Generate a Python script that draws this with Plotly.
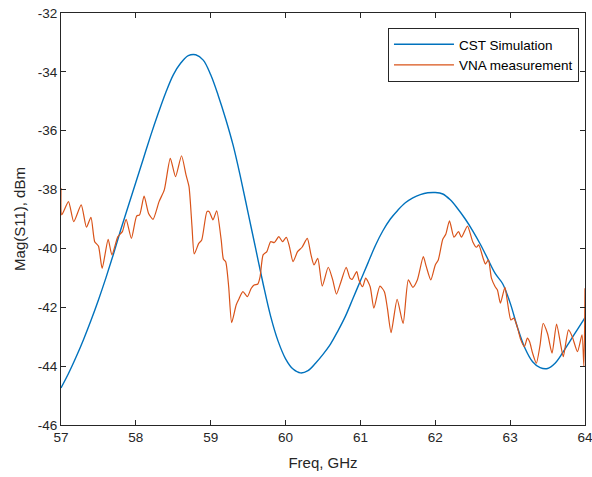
import plotly.graph_objects as go

# CST simulation (blue)
freq_cst = [57.0, 57.1, 57.2, 57.3, 57.4, 57.5, 57.6, 57.7, 57.8, 57.9,
            58.0, 58.1, 58.2, 58.3, 58.4, 58.5, 58.6, 58.7, 58.8, 58.9,
            59.0, 59.1, 59.2, 59.3, 59.4, 59.5, 59.6, 59.7, 59.8, 59.9,
            60.0, 60.1, 60.2, 60.3, 60.4, 60.5, 60.6, 60.7, 60.8, 60.9,
            61.0, 61.1, 61.2, 61.3, 61.4, 61.5, 61.6, 61.7, 61.8, 61.9,
            62.0, 62.1, 62.2, 62.3, 62.4, 62.5, 62.6, 62.7, 62.8, 62.9,
            63.0, 63.1, 63.2, 63.3, 63.4, 63.5, 63.6, 63.7, 63.8, 63.9, 64.0]
s11_cst = [-44.74, -44.25, -43.7, -43.1, -42.45, -41.75, -41.0, -40.2, -39.35, -38.55,
           -37.75, -36.95, -36.15, -35.4, -34.7, -34.1, -33.7, -33.45, -33.42, -33.6,
           -34.1, -34.8, -35.6, -36.5, -37.6, -38.8, -40.0, -41.2, -42.3, -43.15,
           -43.75, -44.1, -44.23, -44.15, -43.9, -43.6, -43.25, -42.8, -42.3, -41.7,
           -41.1, -40.5, -39.9, -39.4, -39.0, -38.7, -38.45, -38.28, -38.17, -38.11,
           -38.1, -38.15, -38.35, -38.65, -39.0, -39.4, -39.85, -40.35, -40.85, -41.2,
           -41.85, -42.7, -43.4, -43.85, -44.05, -44.08, -43.9, -43.55, -43.15, -42.75, -42.35]

# VNA measurement (orange)
freq_vna = [57.00, 57.01, 57.10, 57.17, 57.27, 57.34, 57.40, 57.45, 57.50, 57.55,
            57.63, 57.68, 57.76, 57.82, 57.87, 57.94, 58.01, 58.05, 58.11, 58.17,
            58.23, 58.31, 58.38, 58.46, 58.53, 58.61, 58.67, 58.71, 58.75, 58.78,
            58.84, 58.88, 58.95, 58.98, 59.03, 59.08, 59.14, 59.17, 59.20, 59.24,
            59.28, 59.34, 59.38, 59.43, 59.49, 59.54, 59.58, 59.63, 59.66, 59.70,
            59.75, 59.80, 59.85, 59.91, 59.96, 60.01, 60.05, 60.10, 60.16, 60.22,
            60.29, 60.34, 60.38, 60.43, 60.49, 60.57, 60.63, 60.68, 60.74, 60.81,
            60.86, 60.89, 60.95, 60.98, 61.03, 61.07, 61.13, 61.18, 61.26, 61.32,
            61.36, 61.41, 61.49, 61.57, 61.64, 61.70, 61.76, 61.84, 61.88, 61.94,
            62.00, 62.04, 62.10, 62.14, 62.19, 62.25, 62.31, 62.35, 62.43, 62.50,
            62.55, 62.58, 62.64, 62.67, 62.71, 62.75, 62.80, 62.83, 62.87, 62.93,
            62.96, 63.01, 63.05, 63.10, 63.14, 63.19, 63.23, 63.26, 63.30, 63.35,
            63.40, 63.44, 63.50, 63.56, 63.62, 63.68, 63.71, 63.78, 63.83, 63.90,
            63.96, 63.985, 64.00]
s11_vna = [-37.95, -38.86, -38.41, -39.09, -38.52, -39.28, -38.94, -39.77, -39.92, -40.68,
           -39.69, -40.22, -39.60, -39.43, -39.01, -39.66, -38.90, -38.86, -38.22, -38.81,
           -39.01, -38.41, -38.01, -36.94, -37.56, -36.85, -37.50, -37.90, -39.26, -40.19,
           -39.83, -39.71, -38.75, -38.75, -39.03, -38.72, -39.71, -40.37, -40.45, -41.30,
           -42.52, -41.92, -41.70, -41.47, -41.64, -41.36, -41.24, -41.21, -40.96, -40.22,
           -40.11, -39.77, -39.80, -39.60, -39.77, -39.62, -39.92, -40.45, -40.11, -39.96,
           -39.66, -40.22, -40.56, -40.34, -41.28, -40.64, -41.07, -41.55, -41.13, -40.64,
           -41.01, -41.05, -40.79, -41.07, -41.30, -41.01, -41.30, -42.03, -41.28, -41.47,
           -42.03, -42.86, -41.73, -42.55, -41.07, -41.32, -41.07, -40.28, -40.62, -41.07,
           -40.56, -40.39, -39.69, -39.52, -39.06, -39.62, -39.43, -39.62, -39.24, -39.77,
           -39.96, -39.88, -40.34, -40.53, -40.39, -41.01, -41.30, -41.41, -41.86, -41.32,
           -41.75, -42.43, -42.37, -42.71, -43.09, -43.34, -43.05, -43.17, -43.56, -43.90,
           -43.28, -42.55, -42.90, -43.56, -42.57, -43.34, -43.68, -42.77, -43.00, -43.51,
           -42.94, -44.00, -41.35]

x_ticks = [57, 58, 59, 60, 61, 62, 63, 64]
x_ticktext = ["57", "58", "59", "60", "61", "62", "63", "64"]
y_ticks = [-46, -44, -42, -40, -38, -36, -34, -32]
y_ticktext = ["-46", "-44", "-42", "-40", "-38", "-36", "-34", "-32"]

FONT = "Liberation Sans, Arial, Helvetica, sans-serif"
AX = "#262626"

fig = go.Figure()
fig.add_trace(go.Scatter(x=freq_cst, y=s11_cst, mode="lines", name="CST Simulation",
                         line=dict(color="#0072BD", width=1.4, shape="spline", smoothing=1.0)))
fig.add_trace(go.Scatter(x=freq_vna, y=s11_vna, mode="lines", name="VNA measurement",
                         line=dict(color="#D95319", width=1.2, shape="spline", smoothing=0.6)))

axis_common = dict(showgrid=False, zeroline=False, showline=True, linecolor=AX, linewidth=1,
                   mirror="ticks", ticks="inside", ticklen=5, tickcolor=AX, tickwidth=1,
                   ticklabeloverflow="allow",
                   tickfont=dict(family=FONT, size=13.5, color=AX))

fig.update_xaxes(range=[57, 64], tickvals=x_ticks, ticktext=x_ticktext,
                 title=dict(text="Freq, GHz", font=dict(family=FONT, size=15, color=AX), standoff=13),
                 **axis_common)
fig.update_yaxes(range=[-46, -32], tickvals=y_ticks, ticktext=y_ticktext,
                 title=dict(text="Mag(S11), dBm", font=dict(family=FONT, size=15, color=AX), standoff=8),
                 **axis_common)

fig.update_layout(
    width=592, height=477,
    margin=dict(l=61, r=7, t=13, b=52, autoexpand=False),
    paper_bgcolor="white", plot_bgcolor="white",
    showlegend=True,
    legend=dict(x=0.9885, y=0.9636, xanchor="right", yanchor="top",
                bgcolor="white", bordercolor=AX, borderwidth=1,
                font=dict(family=FONT, size=13.5, color="black"),
                tracegroupgap=0, itemwidth=60),
)

fig.write_html("out.html", config={"displayModeBar": False},
               post_script="document.body.style.margin='0';")
